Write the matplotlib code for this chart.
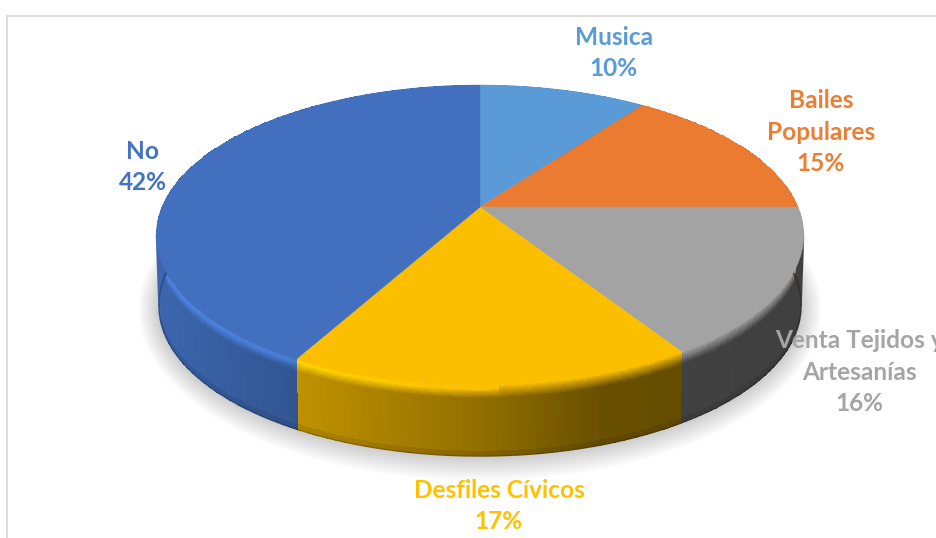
import numpy as np
import matplotlib
matplotlib.use("Agg")
import matplotlib.pyplot as plt
from matplotlib.collections import LineCollection

# ---- data ----
categories = ["Musica", "Bailes\nPopulares", "Venta Tejidos y\nArtesanías", "Desfiles Cívicos", "No"]
values = [10, 15, 16, 17, 42]
face_colors = ["#5A9AD6", "#EA7B30", "#A3A3A3", "#FBBF00", "#4270BF"]
label_colors = ["#5B9BD5", "#ED7D31", "#A5A5A5", "#FFC000", "#4472C4"]
label_centers = [(614, 53), (821, 132), (859, 372), (499, 506), (143, 167)]

# ---- layout / style ----
W, H = 937, 538
CX, CY = 480.0, 207.0
R, A, K = 318.0, 144.8, 0.187
DEPTH = 71.0
BEVEL = 0.18
shade_x = [158, 290, 480, 600, 683, 800]
shade_f = [0.91, 0.77, 0.58, 0.42, 0.40, 0.39]


def project(t, v=0.0, grow=0.0):
    w = 1 + K * np.cos(t)
    x = CX + (R * (1 - 0.008 * v) + grow) * np.sin(t) / w
    y = CY - (A + grow) * np.cos(t) / w + DEPTH * v
    return x, y


def rgb(c):
    return np.array(matplotlib.colors.to_rgb(c))


def wall_colour(base, t, v):
    xc, _ = project(t, v)
    f = np.interp(xc, shade_x, shade_f)[..., None]
    side = base * f
    h = np.clip((500 - xc) / 300, 0, 1)[..., None]
    hl = np.where(h > 0, np.clip(base * (1 + 0.18 * h), 0, 1), base * 0.7 + side * 0.3)
    u1 = np.clip(v / 0.05, 0, 1)[..., None]
    u2 = np.clip((v - 0.05) / (BEVEL - 0.05), 0, 1)[..., None]
    col = np.where(v[..., None] < 0.05, base + (hl - base) * u1, hl + (side - hl) * u2)
    rim = np.clip((v - 0.95) / 0.05, 0, 1)[..., None]
    return np.clip(col * (1 - 0.35 * rim), 0, 1)


plt.rcParams["font.family"] = ["Lato", "DejaVu Sans"]
fig = plt.figure(figsize=(W / 100, H / 100), dpi=100)
ax = fig.add_axes([0, 0, 1, 1])
ax.set_xlim(0, W)
ax.set_ylim(H, 0)
ax.axis("off")

# chart frame
ax.plot([7.5, 7.5, W + 5], [H + 5, 16, 16], color="#D9D9D9", lw=1.3, zorder=1, solid_joinstyle="miter")

# soft shadow beneath the pie
tt = np.linspace(0, 2 * np.pi, 361)
for e in np.linspace(2, 20, 16):
    sx, sy = project(tt, 1.0, e)
    ax.fill(sx, sy, color="black", alpha=0.012, lw=0, zorder=2)

edges = np.radians(np.concatenate([[0], np.cumsum(values)]) * 3.6)

# side walls
for i in range(len(values)):
    a0, a1 = edges[i], edges[i + 1]
    nt = max(int(np.degrees(a1 - a0)) * 2, 4)
    t = np.linspace(a0, a1, nt + 1)
    v = np.concatenate([np.linspace(0, BEVEL, 15), np.linspace(BEVEL, 1, 12)[1:]])
    T, V = np.meshgrid(t, v)
    X, Y = project(T, V)
    tc = 0.5 * (T[:-1, :-1] + T[1:, 1:])
    vc = 0.5 * (V[:-1, :-1] + V[1:, 1:])
    base = rgb(face_colors[i])
    ax.pcolormesh(X, Y, wall_colour(base, tc, vc), shading="flat", edgecolors="none",
                  antialiased=False, zorder=3)
    # smooth the lower silhouette of the wall
    lx, ly = project(t, 1.0)
    pts = np.column_stack([lx, ly])
    segs = np.stack([pts[:-1], pts[1:]], axis=1)
    tm = 0.5 * (t[:-1] + t[1:])
    ax.add_collection(LineCollection(segs, colors=wall_colour(base, tm, np.full_like(tm, 0.99)),
                                     linewidths=0.9, zorder=3.1))
    # smooth the outer vertical silhouette
    vv = np.linspace(0, 1, 30)
    for sil in (np.arcsin(1) + np.arcsin(K), 2 * np.pi - np.arcsin(1) - np.arcsin(K)):
        if a0 <= sil <= a1:
            sxv, syv = project(np.full_like(vv, sil), vv)
            p2 = np.column_stack([sxv, syv])
            s2 = np.stack([p2[:-1], p2[1:]], axis=1)
            ax.add_collection(LineCollection(s2, colors=wall_colour(base, np.full(29, sil), 0.5 * (vv[:-1] + vv[1:])),
                                             linewidths=0.9, zorder=3.1))

# top faces
for i in range(len(values)):
    t = np.linspace(edges[i], edges[i + 1], 200)
    px, py = project(t)
    ax.fill(np.r_[CX, px], np.r_[CY, py], color=face_colors[i], lw=0.3, zorder=5)

# labels
for name, val, col, (lx, ly) in zip(categories, values, label_colors, label_centers):
    ax.text(lx, ly, f"{name}\n{val}%", color=col, fontsize=17.6, fontweight="bold",
            ha="center", va="center", linespacing=1.46, zorder=6, clip_on=False)

fig.savefig("out.png", dpi=100, facecolor="white")
